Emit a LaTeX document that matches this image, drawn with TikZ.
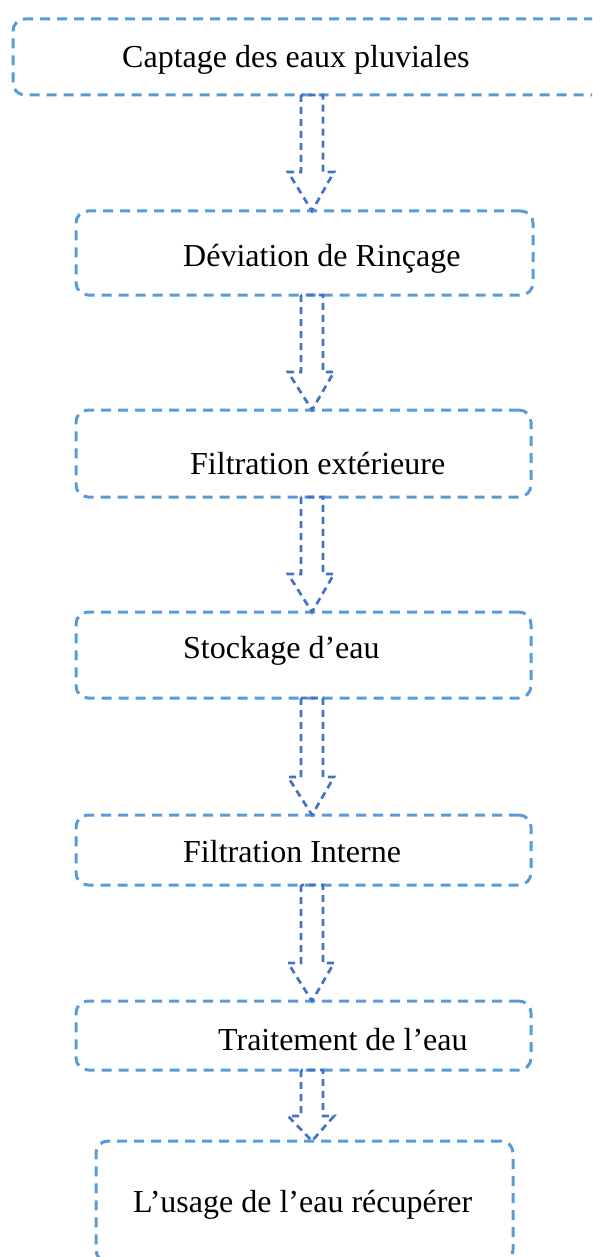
\documentclass[tikz,border=0pt]{standalone}
\usepackage{fontspec}
\setmainfont{Liberation Serif}
\usetikzlibrary{calc}
\definecolor{boxblue}{HTML}{5B9BD5}
\definecolor{arrblue}{HTML}{4472C4}
\tikzset{
  stagebox/.style={draw=boxblue, line width=3pt, dash pattern=on 10pt off 7pt,
    rounded corners=12pt, rectangle, inner sep=0pt, outer sep=0pt},
  stagetext/.style={anchor=base west, inner sep=0pt, font=\fontsize{32}{38}\selectfont},
  blockarrow/.style={draw=arrblue, line width=2.7pt, dash pattern=on 7pt off 5pt, line join=miter}
}
\newcommand\flowarrow[3]{%
  \draw[blockarrow] (SL |- #1.south) -- ($(SL |- #2.north)+(0,-#3)$) -- ($(HL |- #2.north)+(0,-#3)$)
    -- (TP |- #2.north) -- ($(HR |- #2.north)+(0,-#3)$) -- ($(SR |- #2.north)+(0,-#3)$)
    -- (SR |- #1.south) -- cycle;}
\begin{document}
\begin{tikzpicture}[x=1pt,y=-1pt]
\useasboundingbox (0,0) rectangle (592,1257);
\clip (0,0) rectangle (592,1257);
\coordinate (SL) at (301,0);
\coordinate (SR) at (323,0);
\coordinate (HL) at (288,0);
\coordinate (HR) at (334,0);
\coordinate (TP) at (312,0);
% boxes
\node[stagebox, minimum width=627pt, minimum height=76pt] (b1) at (326.5,57) {};
\node[stagebox, minimum width=457pt, minimum height=84pt] (b2) at (304.5,253) {};
\node[stagebox, minimum width=455pt, minimum height=87pt] (b3) at (303.5,453.5) {};
\node[stagebox, minimum width=455pt, minimum height=86pt] (b4) at (303.5,655) {};
\node[stagebox, minimum width=455pt, minimum height=70pt] (b5) at (303.5,850) {};
\node[stagebox, minimum width=455pt, minimum height=69pt] (b6) at (303.5,1035.5) {};
\node[stagebox, minimum width=417pt, minimum height=121pt] (b7) at (304.5,1201.5) {};
% texts
\node[stagetext] (t1) at (122,68) {Captage des eaux pluviales};
\node[stagetext] (t2) at (183,266) {Déviation de Rinçage};
\node[stagetext] (t3) at (190,474) {Filtration extérieure};
\node[stagetext] (t4) at (183,658) {Stockage d’eau};
\node[stagetext] (t5) at (183,862) {Filtration Interne};
\node[stagetext] (t6) at (218,1050) {Traitement de l’eau};
\node[stagetext] (t7) at (133,1212) {L’usage de l’eau récupérer};
% arrows
\flowarrow{b1}{b2}{39}
\flowarrow{b2}{b3}{38}
\flowarrow{b3}{b4}{38}
\flowarrow{b4}{b5}{38}
\flowarrow{b5}{b6}{38}
\flowarrow{b6}{b7}{25}
\end{tikzpicture}
\end{document}
